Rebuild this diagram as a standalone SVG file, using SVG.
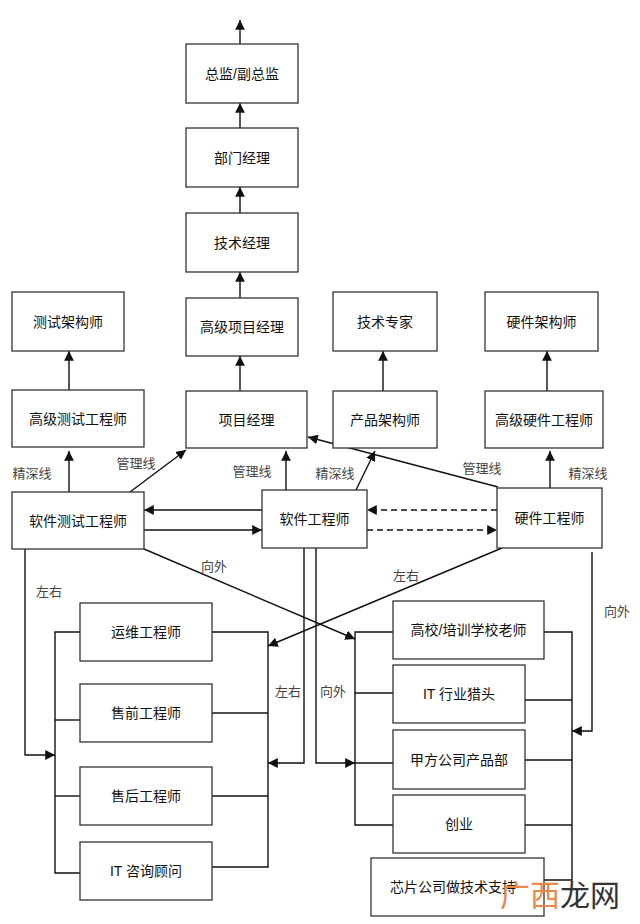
<svg xmlns="http://www.w3.org/2000/svg" width="640" height="924" viewBox="0 0 640 924">
<style>
rect{fill:#fff;stroke:#333;stroke-width:1.3}
text{font-family:"Liberation Sans","Noto Sans CJK SC",sans-serif;font-size:14px;fill:#111;text-anchor:middle;dominant-baseline:central}
.l{font-size:13px;fill:#444}
.c line,.c polyline{stroke:#111;stroke-width:1.4;fill:none}
.a{marker-end:url(#ar)}
.d{stroke-dasharray:6 4}
</style>
<defs><marker id="ar" viewBox="0 0 10 10" refX="10" refY="5" markerWidth="7" markerHeight="7" orient="auto"><path d="M0,0L10,5L0,10z" fill="#111"/></marker></defs>
<rect width="640" height="924" style="fill:#fff;stroke:none"/>
<g class="c">
<line class="a" x1="240" y1="44" x2="240" y2="20"/>
<line class="a" x1="240" y1="128" x2="240" y2="103"/>
<line class="a" x1="240" y1="213" x2="240" y2="187"/>
<line class="a" x1="240" y1="298" x2="240" y2="272"/>
<line class="a" x1="240" y1="391" x2="240" y2="356"/>
<line class="a" x1="69" y1="390" x2="69" y2="351"/>
<line class="a" x1="383" y1="391" x2="383" y2="351"/>
<line class="a" x1="547" y1="391" x2="547" y2="351"/>
<line class="a" x1="69" y1="492" x2="69" y2="451"/>
<line class="a" x1="130" y1="492" x2="186" y2="450"/>
<line class="a" x1="286" y1="490" x2="286" y2="451"/>
<line class="a" x1="356" y1="490" x2="375" y2="451"/>
<line class="a" x1="498" y1="487" x2="308" y2="437"/>
<line class="a" x1="550" y1="488" x2="550" y2="451"/>
<line class="a" x1="262" y1="510" x2="144" y2="510"/>
<line class="a" x1="144" y1="530" x2="262" y2="530"/>
<line class="a d" x1="497" y1="510" x2="367" y2="510"/>
<line class="a d" x1="367" y1="530" x2="497" y2="530"/>
<polyline class="a" points="25,549 25,755 55,755"/>
<line class="a" x1="144" y1="549" x2="355" y2="639"/>
<line class="a" x1="502" y1="548" x2="268" y2="646"/>
<polyline class="a" points="304,548 304,763 268,763"/>
<polyline class="a" points="316,548 316,763 355,763"/>
<polyline class="a" points="592,552 592,731 572,731"/>
<polyline points="80,632 55,632 55,873 80,873"/>
<line x1="55" y1="720" x2="80" y2="720"/>
<line x1="55" y1="796" x2="80" y2="796"/>
<polyline points="212,632 268,632 268,867 212,867"/>
<line x1="212" y1="713" x2="268" y2="713"/>
<line x1="212" y1="796" x2="268" y2="796"/>
<polyline points="393,632 355,632 355,825 393,825"/>
<line x1="355" y1="693" x2="393" y2="693"/>
<line x1="355" y1="763" x2="393" y2="763"/>
<polyline points="544,632 572,632 572,880 544,880"/>
<line x1="525" y1="700" x2="572" y2="700"/>
<line x1="525" y1="760" x2="572" y2="760"/>
<line x1="525" y1="825" x2="572" y2="825"/>
</g>
<g id="n1"><rect x="186" y="44" width="112" height="59"/><text x="242" y="73.5">总监/副总监</text></g>
<g id="n2"><rect x="186" y="128" width="112" height="59"/><text x="242" y="157.5">部门经理</text></g>
<g id="n3"><rect x="186" y="213" width="112" height="59"/><text x="242" y="242.5">技术经理</text></g>
<g id="n4"><rect x="186" y="298" width="112" height="58"/><text x="242" y="327">高级项目经理</text></g>
<g id="n5"><rect x="12" y="292" width="112" height="59"/><text x="68" y="321.5">测试架构师</text></g>
<g id="n6"><rect x="333" y="292" width="104" height="59"/><text x="385" y="321.5">技术专家</text></g>
<g id="n7"><rect x="485" y="292" width="113" height="59"/><text x="541.5" y="321.5">硬件架构师</text></g>
<g id="n8"><rect x="12" y="390" width="132" height="57"/><text x="78" y="418.5">高级测试工程师</text></g>
<g id="n9"><rect x="186" y="391" width="121" height="57"/><text x="246.5" y="419.5">项目经理</text></g>
<g id="n10"><rect x="333" y="391" width="104" height="57"/><text x="385" y="419.5">产品架构师</text></g>
<g id="n11"><rect x="485" y="391" width="118" height="57"/><text x="544" y="419.5">高级硬件工程师</text></g>
<g id="n12"><rect x="12" y="492" width="132" height="57"/><text x="78" y="520.5">软件测试工程师</text></g>
<g id="n13"><rect x="262" y="490" width="105" height="58"/><text x="314.5" y="519">软件工程师</text></g>
<g id="n14"><rect x="497" y="488" width="105" height="60"/><text x="549.5" y="518">硬件工程师</text></g>
<g id="n15"><rect x="80" y="603" width="132" height="58"/><text x="146" y="632">运维工程师</text></g>
<g id="n16"><rect x="80" y="684" width="132" height="58"/><text x="146" y="713">售前工程师</text></g>
<g id="n17"><rect x="80" y="767" width="132" height="58"/><text x="146" y="796">售后工程师</text></g>
<g id="n18"><rect x="80" y="842" width="132" height="58"/><text x="146" y="871">IT 咨询顾问</text></g>
<g id="n19"><rect x="393" y="601" width="151" height="58"/><text x="468.5" y="630">高校/培训学校老师</text></g>
<g id="n20"><rect x="393" y="665" width="132" height="58"/><text x="459" y="694">IT 行业猎头</text></g>
<g id="n21"><rect x="393" y="730" width="132" height="59"/><text x="459" y="759.5">甲方公司产品部</text></g>
<g id="n22"><rect x="393" y="795" width="132" height="58"/><text x="459" y="824">创业</text></g>
<g id="n23"><rect x="371" y="858" width="173" height="58"/><text x="453" y="887">芯片公司做技术支持</text></g>
<g id="labels">
<text class="l" x="32" y="473">精深线</text>
<text class="l" x="136" y="463">管理线</text>
<text class="l" x="252" y="471">管理线</text>
<text class="l" x="335" y="473">精深线</text>
<text class="l" x="482" y="468">管理线</text>
<text class="l" x="588" y="473">精深线</text>
<text class="l" x="214" y="566">向外</text>
<text class="l" x="49" y="591">左右</text>
<text class="l" x="406" y="575">左右</text>
<text class="l" x="617" y="611">向外</text>
<text class="l" x="288" y="691">左右</text>
<text class="l" x="333" y="691">向外</text>
</g>
<text x="560" y="895" style="font-size:30px;fill:#e8894a">广西<tspan style="fill:#333">龙网</tspan></text>
</svg>
